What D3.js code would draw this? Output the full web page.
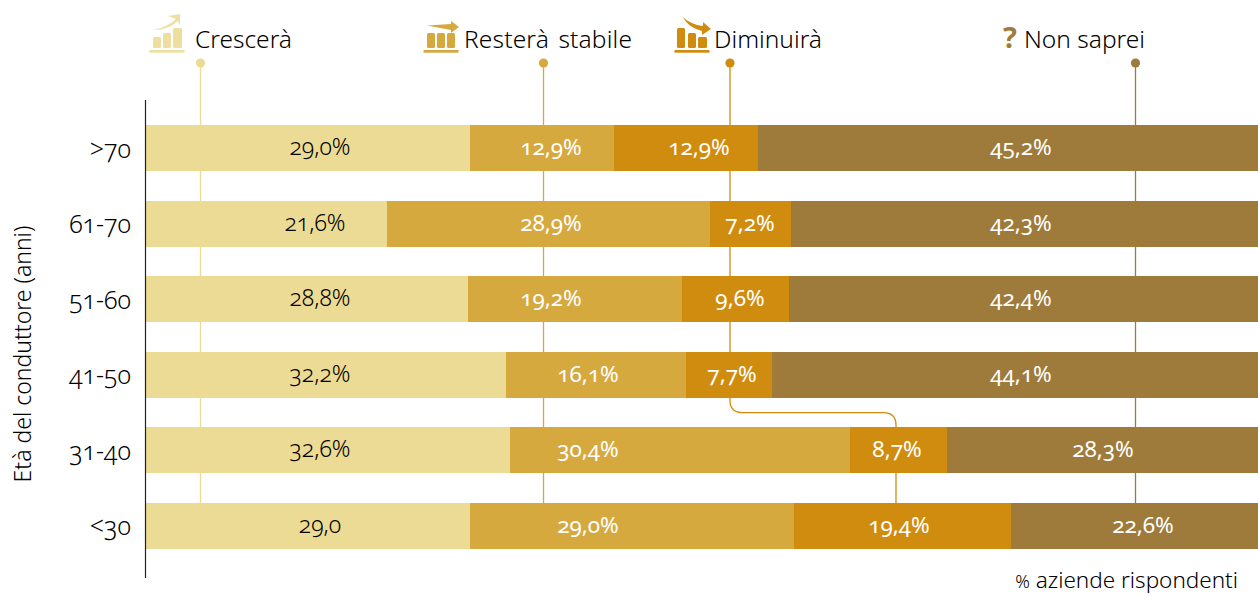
<!DOCTYPE html>
<html><head><meta charset="utf-8">
<script src="https://cdn.jsdelivr.net/npm/d3@7"></script>
<style>
html,body{margin:0;padding:0;background:#fff;overflow:hidden}
svg{display:block}
text{font-family:"Noto Sans",sans-serif;font-weight:350;font-variant-numeric:oldstyle-nums;font-feature-settings:"onum" 1}
rect.seg{shape-rendering:crispEdges}
</style></head><body>
<div id="chart"></div>
<script>
// ---- data ----
const ageClasses = [">70","61-70","51-60","41-50","31-40","<30"];
const seriesNames = ["Crescerà","Resterà stabile","Diminuirà","Non saprei"];
const crescera = [29.0,21.6,28.8,32.2,32.6,29.0];
const stabile  = [12.9,28.9,19.2,16.1,30.4,29.0];
const diminuira= [12.9,7.2,9.6,7.7,8.7,19.4];
const nonSaprei= [45.2,42.3,42.4,44.1,28.3,22.6];
const seriesColors = ["#ECDB95","#D6A93F","#D08C0E","#9E7B3A"];
const labelColors = ["#000","#fff","#fff","#fff"];
const yTitle = "Età del conduttore (anni)";
const xNote = "aziende rispondenti";

// ---- layout (separate from the data) ----
const W=1258,H=595;
const labelX=[[320,315,320,320,320,320],[551,551,551,588,588,588],[699,750,740,732,897,899],[1021,1021,1021,1021,1103,1143]];
const guideX=[200,543,730,1135];
const legendX=[195,464,714,1024];
const iconX=[150,424,675,1003];

const svg=d3.select("#chart").append("svg").attr("width",W).attr("height",H);
const x=d3.scaleLinear().domain([0,100]).range([146,1263]);
const y=d3.scaleBand().domain(ageClasses).range([125,549]).paddingInner(0.3915).paddingOuter(0);
const all=[crescera,stabile,diminuira,nonSaprei];

// guide lines (behind the bars)
const guides=svg.append("g").attr("fill","none").attr("stroke-width",1.3);
[0,1,3].forEach(i=>{
  guides.append("line").attr("x1",guideX[i]+.5).attr("x2",guideX[i]+.5).attr("y1",63).attr("y2",503)
    .attr("stroke",seriesColors[i]);
});
const bend=d3.path();
bend.moveTo(730,63);bend.lineTo(730,400.5);
bend.quadraticCurveTo(730,412.7,743,412.7);
bend.lineTo(883,412.7);
bend.quadraticCurveTo(896,412.7,896,425);
bend.lineTo(896,503);
guides.append("path").attr("d",bend.toString()).attr("stroke",seriesColors[2]);
svg.append("g").selectAll("circle").data(guideX).join("circle")
  .attr("cx",(d,i)=>d+(i==2?0:.5)).attr("cy",63).attr("r",4.6).attr("fill",(d,i)=>seriesColors[i]);

// bars
ageClasses.forEach((c,r)=>{
  let acc=0;
  all.forEach((s,k)=>{
    const x0=x(acc),x1=x(acc+s[r]);acc+=s[r];
    svg.append("rect").attr("class","seg").attr("x",x0).attr("width",x1-x0).attr("y",y(c)).attr("height",y.bandwidth()).attr("fill",seriesColors[k]);
  });
});
// value labels
const fmt=v=>d3.format(".1f")(v).replace(".",",");
ageClasses.forEach((c,r)=>{
  all.forEach((s,k)=>{
    const last=(r===5&&k===0);
    svg.append("text").attr("x",labelX[k][r]).attr("y",y(c)+y.bandwidth()/2+7)
      .attr("text-anchor","middle").attr("font-size",k===0?23:22.5).attr("fill",labelColors[k])
      .style("font-weight",k===0?350:400)
      .text(fmt(s[r])+(last?"":"%"));
  });
});

// axis
const ax=svg.append("g").attr("transform","translate(146,1.5)").call(d3.axisLeft(y).tickSize(0).tickPadding(15));
ax.select(".domain").remove();
ax.selectAll("text").attr("font-size",25).attr("fill","#000").attr("font-family",'"Noto Sans",sans-serif');
svg.append("line").attr("x1",145.5).attr("x2",145.5).attr("y1",100).attr("y2",578).attr("stroke","#222").attr("stroke-width",1.2);

svg.append("text").attr("transform","translate(31,354) rotate(-90)").attr("text-anchor","middle")
  .attr("font-size",23).attr("fill","#000").text(yTitle);
svg.append("text").attr("x",1238).attr("y",588).attr("text-anchor","end").attr("font-size",22.5).attr("fill","#000")
  .html('<tspan font-size="18">%</tspan> '+xNote);

// legend
svg.append("g").selectAll("text").data(seriesNames).join("text")
  .attr("x",(d,i)=>legendX[i]).attr("y",48).attr("font-size",24.5).attr("fill","#000")
  .attr("word-spacing",(d,i)=>i===1?3:0).attr("letter-spacing",(d,i)=>i===1?0.15:0).text(d=>d);

function icon(i,bars,arrow,op){
  const g=svg.append("g").attr("transform",`translate(${iconX[i]},0)`).attr("fill",seriesColors[i]).attr("opacity",op||1);
  g.append("rect").attr("x",-0.5).attr("y",50).attr("width",35).attr("height",2.7);
  bars.forEach(b=>g.append("rect").attr("x",b[0]).attr("y",b[1]).attr("width",b[2]).attr("height",48-b[1]).attr("rx",1.5));
  g.append("path").attr("d",arrow);
}
icon(0,[[3,37,8],[13,33,8],[23,28,9]],"M3,30 C14,28 22,23 26,19 L18,16 L30,14 L30,25 L27.5,21 C22,27 13,30 3,30Z",0.88);
icon(1,[[3,33,8],[13,33,8],[23,33,8]],"M3,25.5 L27,24 L27,21 L35,27 L27,33 L27,30Z");
icon(2,[[2,28,8],[13,33,8],[23,37,9]],"M8,17 C13,22 20,25 28,26 L28,22 L36,29 L27,35 L27,31 C19,29 11,24 8,17Z");

svg.append("text").attr("x",iconX[3]).attr("y",48).attr("font-size",29).style("font-weight",700).attr("fill",seriesColors[3]).text("?");
</script>
</body></html>
